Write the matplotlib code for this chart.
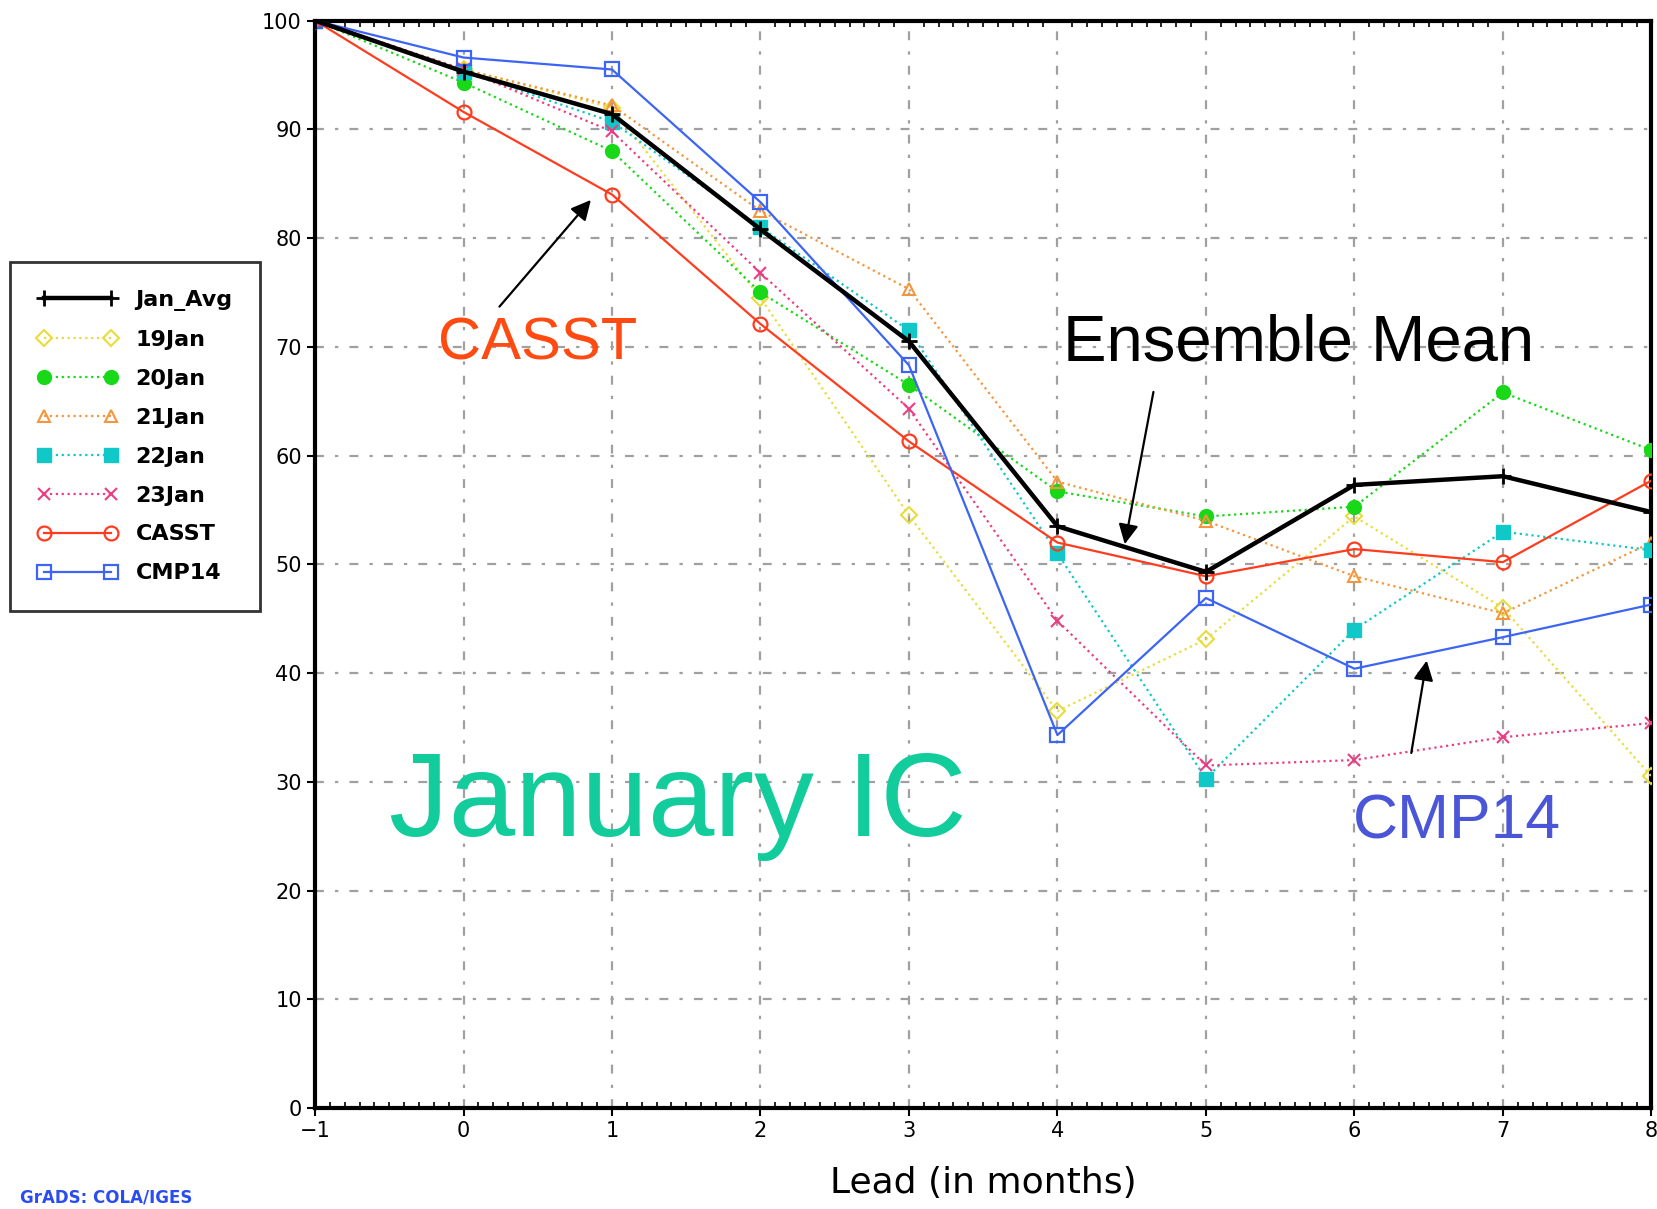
import matplotlib.pyplot as plt
import numpy as np

lead = [-1, 0, 1, 2, 3, 4, 5, 6, 7, 8]

jan_avg = [100, 95.3, 91.4, 80.8, 70.5, 53.5, 49.3, 57.3, 58.1, 54.8]
jan19 = [100, 95.5, 92.0, 74.5, 54.5, 36.5, 43.1, 54.4, 46.0, 30.5]
jan20 = [100, 94.3, 88.0, 75.0, 66.5, 56.7, 54.4, 55.3, 65.8, 60.5]
jan21 = [100, 95.5, 92.2, 82.5, 75.3, 57.6, 54.0, 48.9, 45.5, 52.0]
jan22 = [100, 95.3, 90.7, 81.0, 71.5, 51.0, 30.3, 44.0, 53.0, 51.3]
jan23 = [100, 95.5, 89.8, 76.8, 64.3, 44.8, 31.5, 32.0, 34.1, 35.4]
casst = [100, 91.6, 84.0, 72.1, 61.3, 52.0, 48.9, 51.4, 50.2, 57.7]
cmp14 = [100, 96.6, 95.5, 83.3, 68.3, 34.3, 46.9, 40.4, 43.3, 46.3]

fig = plt.figure(figsize=(16.58, 12.09), dpi=100)
ax = fig.add_axes([0.190, 0.0835, 0.806, 0.8995])

ax.grid(True, color='#a0a0a0', linestyle=(0, (4, 5, 1.5, 5)), linewidth=1.6, zorder=0)

ax.plot(lead, jan_avg, color='black', lw=3.2, marker='+', ms=12, mew=2, label='Jan_Avg', zorder=5)
ax.plot(lead, jan19, color='#e8dc3c', lw=1.6, ls=':', marker='D', ms=8, mfc='none', mew=1.5, label='19Jan', zorder=3)
ax.plot(lead, jan20, color='#18d818', lw=1.6, ls=':', marker='o', ms=10, label='20Jan', zorder=3)
ax.plot(lead, jan21, color='#f5963c', lw=1.6, ls=':', marker='^', ms=9, mfc='none', mew=1.5, label='21Jan', zorder=3)
ax.plot(lead, jan22, color='#10c8c8', lw=1.6, ls=':', marker='s', ms=10, label='22Jan', zorder=3)
ax.plot(lead, jan23, color='#ee3c82', lw=1.6, ls=':', marker='x', ms=9, mew=1.5, label='23Jan', zorder=3)
ax.plot(lead, casst, color='#ff3c1e', lw=1.6, marker='o', ms=10, mfc='none', mew=1.6, label='CASST', zorder=4)
ax.plot(lead, cmp14, color='#3c64f5', lw=1.6, marker='s', ms=10, mfc='none', mew=1.6, label='CMP14', zorder=4)

ax.set_xlim(-1, 8)
ax.set_ylim(0, 100)
ax.set_xticks(range(-1, 9))
ax.set_yticks(range(0, 101, 10))
ax.set_xticks(np.arange(-1, 8.01, 0.1), minor=True)
ax.tick_params(axis='both', which='major', labelsize=15, length=6, width=1.5, direction='out')
ax.tick_params(axis='x', which='minor', top=True, bottom=True, direction='in', length=4, width=1.2)
ax.tick_params(axis='y', which='minor', left=False)
for s in ax.spines.values():
    s.set_linewidth(3)
ax.set_xlabel('Lead (in months)', fontsize=26, labelpad=18)

leg = ax.legend(loc='upper left', bbox_to_anchor=(0.006, 0.783), bbox_transform=fig.transFigure,
                borderaxespad=0, numpoints=2, handlelength=3.6, fontsize=16, frameon=True,
                fancybox=False, edgecolor='black', borderpad=1.25, labelspacing=0.85)
leg.get_frame().set_linewidth(2)
for t in leg.get_texts():
    t.set_fontweight('bold')

arrow = dict(arrowstyle='-|>', color='black', lw=1.6, mutation_scale=30)
ax.annotate('', xy=(0.87, 83.7), xytext=(0.23, 73.5), arrowprops=arrow)
ax.annotate('', xy=(4.45, 51.6), xytext=(4.65, 66.1), arrowprops=arrow)
ax.annotate('', xy=(6.49, 41.4), xytext=(6.38, 32.4), arrowprops=arrow)

ax.text(-0.17, 70.3, 'CASST', color='#ff4a12', fontsize=43, family='Liberation Sans', va='center', zorder=6)
ax.text(4.04, 70.3, 'Ensemble Mean', color='black', fontsize=47, family='Liberation Sans', va='center', zorder=6)
ax.text(5.99, 26.3, 'CMP14', color='#4a55d8', fontsize=45, family='Liberation Sans', va='center', zorder=6)
ax.text(-0.5, 27.8, 'January IC', color='#12cc9c', fontsize=86, family='Liberation Sans', va='center', zorder=6)

fig.text(0.012, 0.002, 'GrADS: COLA/IGES', color='#2a4cf0', fontsize=12, fontweight='bold', va='bottom')

fig.savefig('out.png', dpi=100)
